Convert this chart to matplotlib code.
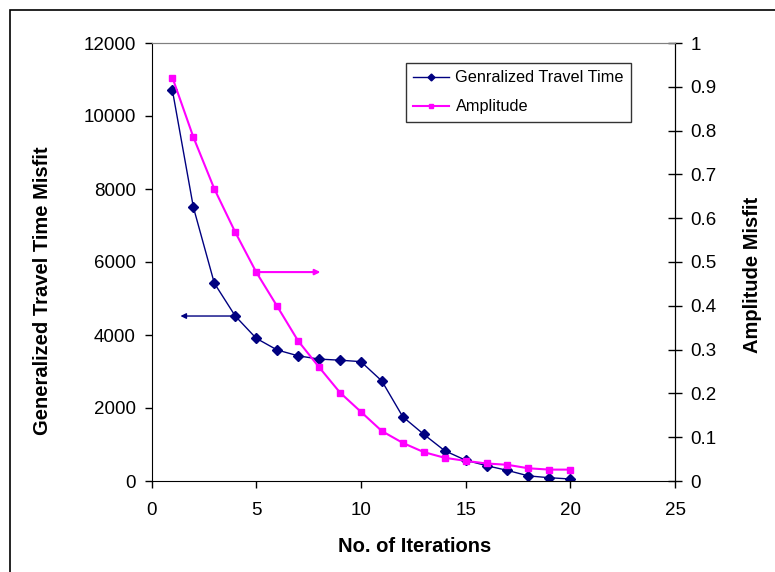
import matplotlib
matplotlib.use("Agg")
import matplotlib.pyplot as plt
from matplotlib.patches import Rectangle

plt.rcParams['font.family'] = ['Liberation Sans', 'DejaVu Sans']

# misfit per iteration
iterations = list(range(1, 21))
travel_time = [10700, 7500, 5420, 4520, 3910, 3590, 3430, 3340, 3310, 3270,
               2740, 1760, 1280, 830, 570, 420, 290, 140, 90, 55]
amplitude = [0.921, 0.785, 0.667, 0.568, 0.477, 0.399, 0.320, 0.260, 0.202, 0.158,
             0.114, 0.087, 0.066, 0.053, 0.046, 0.040, 0.037, 0.029, 0.026, 0.026]

navy = '#000080'
magenta = '#FF00FF'

fig = plt.figure(figsize=(7.75, 5.72), dpi=100)
ax1 = fig.add_axes([151.5 / 775, 1 - 481 / 572, (675 - 151.5) / 775, (481 - 43) / 572])
ax2 = ax1.twinx()

l1, = ax1.plot(iterations, travel_time, color=navy, lw=1, marker='D', ms=5,
               label='Genralized Travel Time')
l2, = ax2.plot(iterations, amplitude, color=magenta, lw=1.5, marker='s', ms=5,
               label='Amplitude')

ax1.set_xlim(0, 25)
ax1.set_ylim(0, 12000)
ax2.set_ylim(0, 1)
ax1.set_xticks(range(0, 26, 5))
ax1.set_yticks(range(0, 12001, 2000))
ax2.set_yticks([i / 10 for i in range(11)])
ax2.set_yticklabels(['0', '0.1', '0.2', '0.3', '0.4', '0.5', '0.6', '0.7', '0.8', '0.9', '1'])

ax1.tick_params(axis='x', direction='out', length=5, pad=10, labelsize=13.5, width=1)
ax1.tick_params(axis='y', direction='out', length=4.7, pad=6.5, labelsize=13.5, width=1)
ax2.tick_params(axis='y', direction='inout', length=10, pad=6, labelsize=13.5, width=1)

for ax in (ax1, ax2):
    ax.spines['top'].set_color('#808080')
ax2.spines['left'].set_visible(False)
ax2.spines['bottom'].set_visible(False)

ax1.set_xlabel('No. of Iterations', fontsize=14.5, fontweight='bold')
ax1.set_ylabel('Generalized Travel Time Misfit', fontsize=14.5, fontweight='bold')
ax2.set_ylabel('Amplitude Misfit', fontsize=14.5, fontweight='bold')
ax1.xaxis.set_label_coords(0.502, -0.128)
ax1.yaxis.set_label_coords(-0.190, 0.434)
ax2.yaxis.set_label_coords(1.130, 0.470)

# arrows pointing each curve to its axis
ax1.annotate('', xy=(1.25, travel_time[3]), xytext=(iterations[3], travel_time[3]),
             arrowprops=dict(arrowstyle='-|>', color=navy, lw=1, mutation_scale=8))
ax2.annotate('', xy=(8.2, amplitude[4]), xytext=(iterations[4], amplitude[4]),
             arrowprops=dict(arrowstyle='-|>', color=magenta, lw=1.5, mutation_scale=8))

leg = ax2.legend(handles=[l1, l2], loc='upper left', bbox_to_anchor=(0.486, 0.954),
                 borderaxespad=0, fontsize=11.7, frameon=True, fancybox=False,
                 edgecolor='black', handlelength=2.2, handletextpad=0.4,
                 borderpad=0.45, labelspacing=0.85, markerscale=0.7)
leg.get_frame().set_linewidth(1)

fig.patches.append(Rectangle((10 / 775, -0.1), 1.0, 1.1 - 10 / 572, transform=fig.transFigure,
                             fill=False, lw=1.2, color='black'))

fig.savefig('out.png', dpi=100)
